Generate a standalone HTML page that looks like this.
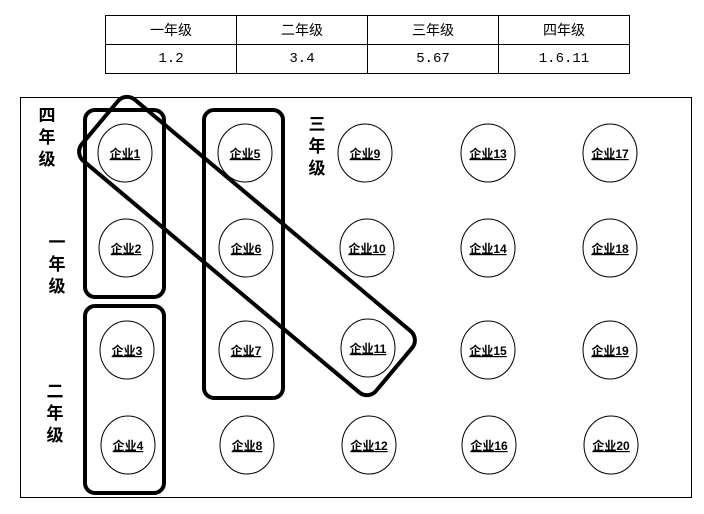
<!DOCTYPE html>
<html><head><meta charset="utf-8"><style>
body{margin:0;width:704px;height:514px;background:#fff;position:relative;overflow:hidden;font-family:"Liberation Sans","Noto Sans CJK SC",sans-serif}
table{position:absolute;left:105px;top:15px;border-collapse:collapse}
td{border:1px solid #000;width:130px;height:28px;text-align:center;font-size:14px;padding:0;font-family:"Liberation Mono","Noto Sans CJK SC",monospace}
.v{position:absolute;font-weight:bold;font-size:17px;line-height:22px;width:20px;text-align:center;font-family:"Noto Sans CJK SC",sans-serif}
</style></head><body>
<table><tr><td>一年级</td><td>二年级</td><td>三年级</td><td>四年级</td></tr>
<tr><td>1.2</td><td>3.4</td><td>5.67</td><td>1.6.11</td></tr></table>
<svg width="704" height="514" style="position:absolute;left:0;top:0" font-family="Liberation Sans,Noto Sans CJK SC,sans-serif">
<rect x="20.5" y="97.5" width="671" height="400" fill="none" stroke="#000" stroke-width="1"/>
<g fill="#fff" stroke="#000" stroke-width="1">
<ellipse cx="125" cy="153" rx="27" ry="29"/><ellipse cx="126" cy="248" rx="27" ry="29"/><ellipse cx="127" cy="350" rx="27" ry="29"/><ellipse cx="128" cy="445" rx="27" ry="29"/>
<ellipse cx="245" cy="153" rx="27" ry="29"/><ellipse cx="246" cy="248" rx="27" ry="29"/><ellipse cx="246" cy="350" rx="27" ry="29"/><ellipse cx="247" cy="445" rx="27" ry="29"/>
<ellipse cx="365" cy="153" rx="27" ry="29"/><ellipse cx="367" cy="248" rx="27" ry="29"/><ellipse cx="368" cy="348" rx="27" ry="29"/><ellipse cx="369" cy="445" rx="27" ry="29"/>
<ellipse cx="488" cy="153" rx="27" ry="29"/><ellipse cx="488" cy="248" rx="27" ry="29"/><ellipse cx="488" cy="350" rx="27" ry="29"/><ellipse cx="489" cy="445" rx="27" ry="29"/>
<ellipse cx="610" cy="153" rx="27" ry="29"/><ellipse cx="610" cy="248" rx="27" ry="29"/><ellipse cx="610" cy="350" rx="27" ry="29"/><ellipse cx="611" cy="445" rx="27" ry="29"/>
</g>
<g font-size="12" font-weight="bold" text-anchor="middle" text-decoration="underline">
<text x="125" y="158">企业1</text><text x="126" y="253">企业2</text><text x="127" y="355">企业3</text><text x="128" y="450">企业4</text>
<text x="245" y="158">企业5</text><text x="246" y="253">企业6</text><text x="246" y="355">企业7</text><text x="247" y="450">企业8</text>
<text x="365" y="158">企业9</text><text x="367" y="253">企业10</text><text x="368" y="353">企业11</text><text x="369" y="450">企业12</text>
<text x="488" y="158">企业13</text><text x="488" y="253">企业14</text><text x="488" y="355">企业15</text><text x="489" y="450">企业16</text>
<text x="610" y="158">企业17</text><text x="610" y="253">企业18</text><text x="610" y="355">企业19</text><text x="611" y="450">企业20</text>
</g>
<g fill="none" stroke="#000" stroke-width="4">
<rect x="85" y="110" width="79" height="187" rx="10"/>
<rect x="85" y="306" width="79" height="187" rx="10"/>
<rect x="204" y="110" width="79" height="288" rx="10"/>
<rect x="-192" y="-40" width="384" height="80" rx="12" transform="translate(247,246) rotate(40)"/>
</g>
</svg>
<div class="v" style="left:37px;top:103px">四<br>年<br>级</div>
<div class="v" style="left:47px;top:230px">一<br>年<br>级</div>
<div class="v" style="left:45px;top:379px">二<br>年<br>级</div>
<div class="v" style="left:307px;top:112px">三<br>年<br>级</div>
</body></html>
